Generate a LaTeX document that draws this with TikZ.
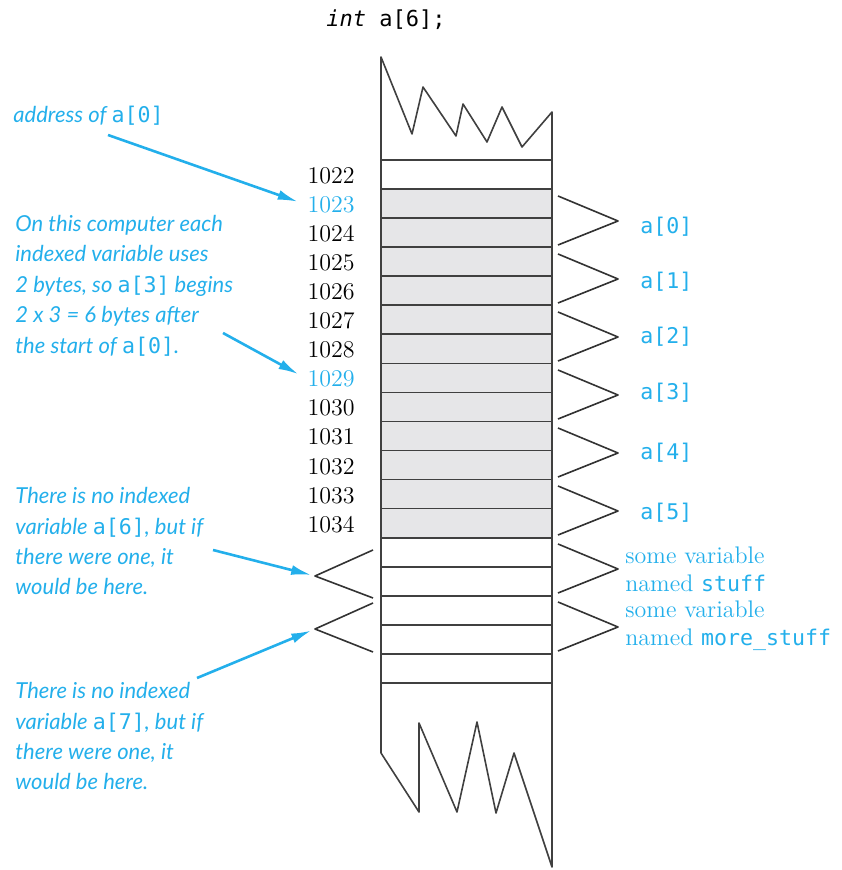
\documentclass[tikz,border=0pt]{standalone}
\usepackage{fontspec}
\usepackage{tikz}
\usetikzlibrary{arrows.meta}
\usetikzlibrary{calc}
\newfontfamily\notefont{Lato}
\newfontfamily\codefont{DejaVu Sans Mono}
\newcommand{\codetxt}[1]{{\codefont\upshape\fontsize{10.8}{13}\selectfont #1}}
\definecolor{notecyan}{RGB}{35,175,235}
\definecolor{cellgray}{RGB}{230,230,232}

\begin{document}
\begin{tikzpicture}[x=0.5pt, y=-0.5pt, line join=round,
        addr_style/.style={anchor=east, inner sep=0pt, font=\fontsize{12}{14}\selectfont},
        elem_style/.style={anchor=west, inner sep=0pt, text=notecyan, font=\codefont\fontsize{10.8}{13}\selectfont},
        var_style/.style={anchor=west, inner sep=0pt, align=left, text=notecyan, font=\fontsize{12}{14}\selectfont},
        note_style/.style={anchor=north west, inner sep=0pt, align=left, text=notecyan, font=\notefont\itshape\fontsize{11}{15.2}\selectfont},
        cell_style/.style={draw=black!75, line width=0.8pt},
        brace_style/.style={draw=black!80, line width=0.8pt},
        arrow_style/.style={draw=notecyan, line width=1.3pt, -{Latex[length=10pt,width=5pt]}, shorten >=2pt}]
        \useasboundingbox (0,0) rectangle (841,870);

        % the declaration
        \node (title) at (386,20) {\codefont\fontsize{11}{13}\selectfont\textit{int} a[6];};

        % memory column
        \fill[cellgray] (381,189.1) rectangle (552,537.7);
        \draw[cell_style] (381,57) -- (412,134) -- (423,87) -- (456,136) -- (463,104) -- (487,142) -- (502,107) -- (522,147) -- (552,112)
            -- (552,867) -- (514,753) -- (496,813) -- (477,722) -- (457,812) -- (419,723) -- (419,812) -- (381,753) -- cycle;
        \draw[cell_style] (381,160) -- (552,160) (381,189.1) -- (552,189.1) (381,218.1) -- (552,218.1)
            (381,247.2) -- (552,247.2) (381,276.2) -- (552,276.2) (381,305.3) -- (552,305.3)
            (381,334.3) -- (552,334.3) (381,363.4) -- (552,363.4) (381,392.4) -- (552,392.4)
            (381,421.5) -- (552,421.5) (381,450.5) -- (552,450.5) (381,479.6) -- (552,479.6)
            (381,508.6) -- (552,508.6) (381,537.7) -- (552,537.7) (381,566.7) -- (552,566.7)
            (381,595.8) -- (552,595.8) (381,624.8) -- (552,624.8) (381,653.9) -- (552,653.9)
            (381,682.9) -- (552,682.9);

        % addresses
        \node[addr_style] (addr1022) at (355,176) {1022};
        \node[addr_style, text=notecyan] (addr1023) at (355,205) {1023};
        \node[addr_style] (addr1024) at (355,234) {1024};
        \node[addr_style] (addr1025) at (355,263) {1025};
        \node[addr_style] (addr1026) at (355,292) {1026};
        \node[addr_style] (addr1027) at (355,321) {1027};
        \node[addr_style] (addr1028) at (355,350) {1028};
        \node[addr_style, text=notecyan] (addr1029) at (355,379) {1029};
        \node[addr_style] (addr1030) at (355,408) {1030};
        \node[addr_style] (addr1031) at (355,437) {1031};
        \node[addr_style] (addr1032) at (355,467) {1032};
        \node[addr_style] (addr1033) at (355,496) {1033};
        \node[addr_style] (addr1034) at (355,525) {1034};

        % indexed variables
        \draw[brace_style] (558,196) -- (618,221) -- (558,245);
        \draw[brace_style] (558,254) -- (618,279) -- (558,303);
        \draw[brace_style] (558,312) -- (618,337) -- (558,361);
        \draw[brace_style] (558,370) -- (618,395) -- (558,419);
        \draw[brace_style] (558,428) -- (618,453) -- (558,477);
        \draw[brace_style] (558,486) -- (618,511) -- (558,535);
        \node[elem_style] (elem0) at (640,227) {a[0]};
        \node[elem_style] (elem1) at (640,282) {a[1]};
        \node[elem_style] (elem2) at (640,337) {a[2]};
        \node[elem_style] (elem3) at (640,393) {a[3]};
        \node[elem_style] (elem4) at (640,453) {a[4]};
        \node[elem_style] (elem5) at (640,513) {a[5]};

        % other variables
        \draw[brace_style] (558,544) -- (618,569) -- (558,593);
        \draw[brace_style] (558,602) -- (618,627) -- (558,651);
        \node[var_style] (stuff) at (625,569) {some variable\\named \codetxt{stuff}};
        \node[var_style] (morestuff) at (625,626) {some variable\\named \codetxt{more\_stuff}};

        % where a[6] and a[7] would be
        \coordinate (tip6) at (315,576);
        \coordinate (tip7) at (315,629);
        \draw[brace_style] (373,550) -- (tip6) -- (373,598);
        \draw[brace_style] (373,603) -- (tip7) -- (373,652);

        % notes
        \node[note_style] (note_addr) at (13,106) {address of \codetxt{a[0]}};
        \node[note_style] (note_size) at (15,215) {On this computer each\\indexed variable uses\\2 bytes, so \codetxt{a[3]} begins\\2 x 3 = 6 bytes after\\the start of \codetxt{a[0]}.};
        \node[note_style] (note_six) at (15,487) {There is no indexed\\variable \codetxt{a[6]}, but if\\there were one, it\\would be here.};
        \node[note_style] (note_seven) at (15,682) {There is no indexed\\variable \codetxt{a[7]}, but if\\there were one, it\\would be here.};

        \coordinate (tail0) at (108,135);
        \coordinate (tail3) at (223,333);
        \coordinate (tail6) at (213,550);
        \coordinate (tail7) at (197,678);
        \draw[arrow_style, shorten >=5pt] (tail0) -- (addr1023.west);
        \draw[arrow_style, shorten >=5pt] (tail3) -- (addr1029.west);
        \draw[arrow_style] (tail6) -- (tip6);
        \draw[arrow_style] (tail7) -- (tip7);
\end{tikzpicture}
\end{document}
